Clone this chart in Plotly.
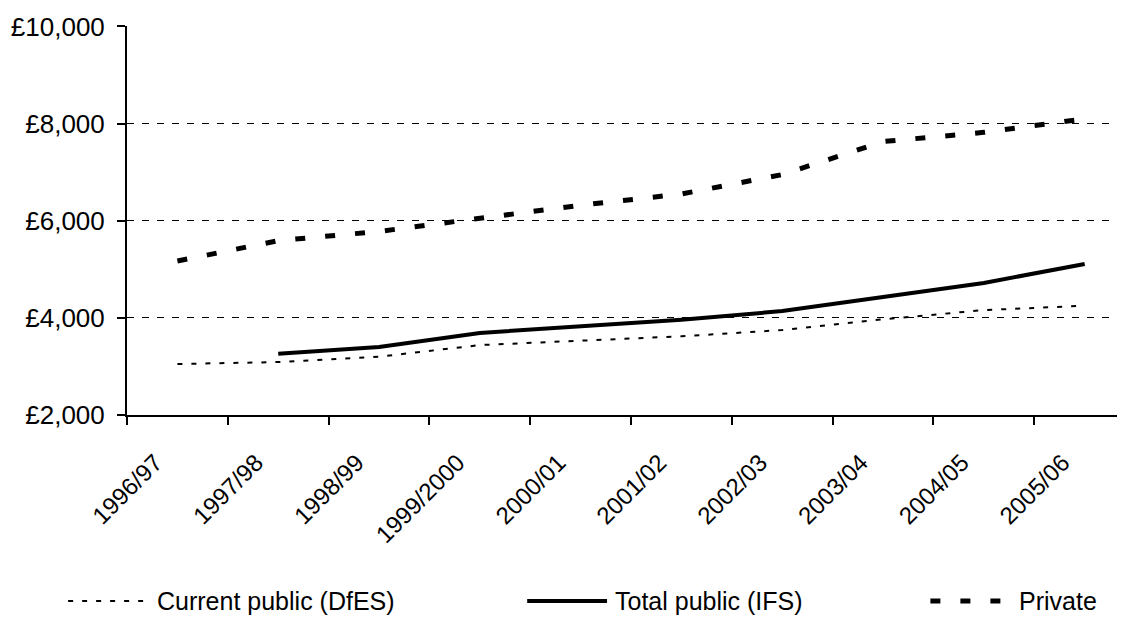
import plotly.graph_objects as go

categories = ["1996/97", "1997/98", "1998/99", "1999/2000", "2000/01",
              "2001/02", "2002/03", "2003/04", "2004/05", "2005/06"]
current_public_dfes = [3050, 3090, 3200, 3440, 3530, 3620, 3750, 3970, 4160, 4250]
total_public_ifs = [None, 3260, 3400, 3690, 3820, 3960, 4140, 4430, 4720, 5110]
private = [5170, 5590, 5780, 6060, 6320, 6550, 6950, 7630, 7820, 8100]
y_ticks = [2000, 4000, 6000, 8000, 10000]
y_tick_labels = ["£2,000", "£4,000", "£6,000", "£8,000", "£10,000"]
series_names = ["Current public (DfES)", "Total public (IFS)", "Private"]

styles = [dict(color="black", width=2, dash="5px,9px"),
          dict(color="black", width=4),
          dict(color="black", width=5, dash="10px,20px")]

fig = go.Figure()
for name, vals, st in zip(series_names, [current_public_dfes, total_public_ifs, private], styles):
    fig.add_trace(go.Scatter(x=categories, y=vals, mode="lines", name=name,
                             line=st, showlegend=False))

# legend drawn as sample lines + text (paper coordinates)
leg_y = -0.478
leg_items = [(-0.059, 0.023, 0.028), (0.401, 0.481, 0.487), (0.805, 0.877, 0.892)]
for (x0, x1, tx), name, st in zip(leg_items, series_names, styles):
    fig.add_shape(type="line", xref="paper", yref="paper", x0=x0, x1=x1, y0=leg_y, y1=leg_y,
                  line=st)
    fig.add_annotation(xref="paper", yref="paper", x=tx, y=leg_y, text=name,
                       showarrow=False, xanchor="left", yanchor="middle",
                       font=dict(size=25))

font = "Liberation Sans, Arial, sans-serif"
fig.update_layout(
    width=1117, height=609,
    margin=dict(l=119, r=0, t=18, b=202),
    plot_bgcolor="white", paper_bgcolor="white",
    font=dict(family=font, color="black", size=25),
    showlegend=False,
    xaxis=dict(type="category", range=[-0.5, 9.4], tickson="boundaries",
               ticks="outside", ticklen=8, tickwidth=2, tickcolor="black",
               showline=True, linecolor="black", linewidth=2,
               showgrid=False, tickangle=-45, tickfont=dict(size=24),
               ticklabelstandoff=22, ticklabelshift=-22),
    yaxis=dict(range=[2000, 10010], tickvals=y_ticks, ticktext=y_tick_labels,
               ticks="outside", ticklen=8, tickwidth=2, tickcolor="black",
               showline=True, linecolor="black", linewidth=2,
               showgrid=True, gridcolor="black", gridwidth=1, griddash="7px,8px",
               zeroline=False, tickfont=dict(size=26), ticklabelstandoff=7),
)
fig.write_html("out.html")
